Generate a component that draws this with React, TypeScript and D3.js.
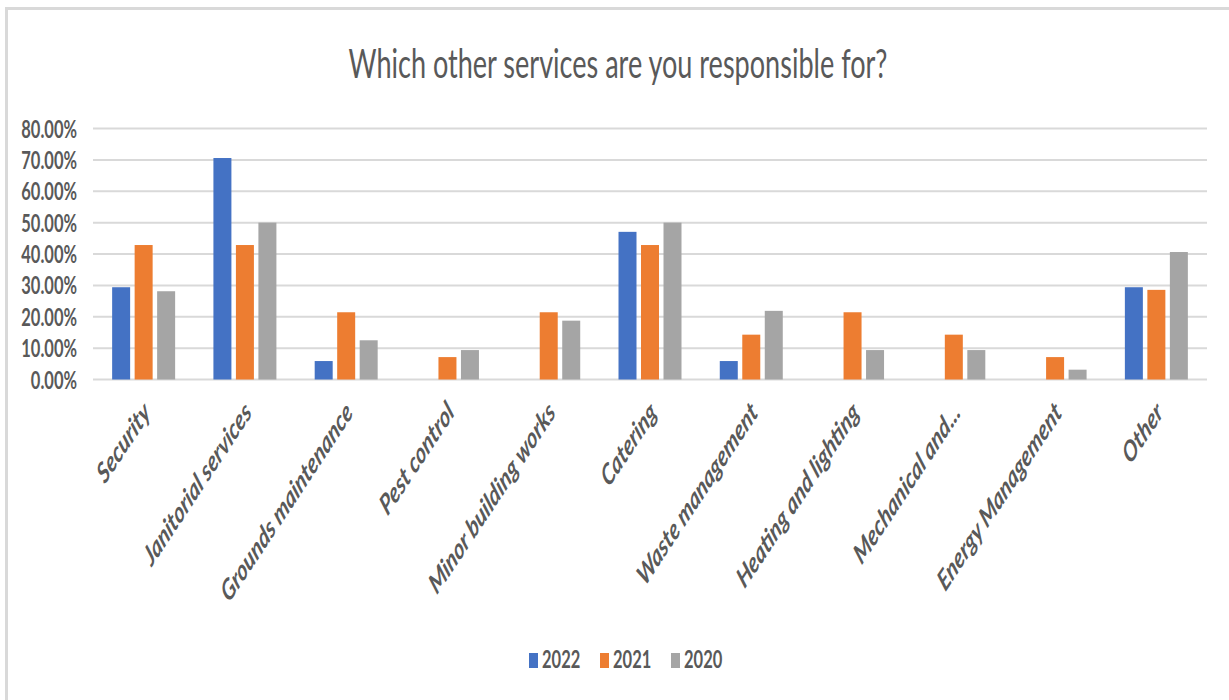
import React from "react";
import * as d3 from "d3";

const categories = [
  "Security",
  "Janitorial services",
  "Grounds maintenance",
  "Pest control",
  "Minor building works",
  "Catering",
  "Waste management",
  "Heating and lighting",
  "Mechanical and...",
  "Energy Management",
  "Other",
];
const seriesNames = ["2022", "2021", "2020"];
const values2022 = [0.2941, 0.7059, 0.0588, 0, 0, 0.4706, 0.0588, 0, 0, 0, 0.2941];
const values2021 = [0.4286, 0.4286, 0.2143, 0.0714, 0.2143, 0.4286, 0.1429, 0.2143, 0.1429, 0.0714, 0.2857];
const values2020 = [0.2813, 0.5, 0.125, 0.0938, 0.1875, 0.5, 0.2188, 0.0938, 0.0938, 0.0313, 0.4063];
const yTicks = [0, 0.1, 0.2, 0.3, 0.4, 0.5, 0.6, 0.7, 0.8];
const colors = ["#4472C4", "#ED7D31", "#A5A5A5"];

const W = 1229;
const H = 700;
const SX = 0.66; // horizontal squeeze of the reference picture
const textColor = "#595959";

export default function App() {
  const series = [values2022, values2021, values2020];
  const x0 = d3.scaleBand<string>().domain(categories).range([93, 1207]).paddingInner(0.378).paddingOuter(0.189);
  const x1 = d3.scaleBand<string>().domain(seriesNames).range([0, x0.bandwidth()]).paddingInner(0.2);
  const y = d3.scaleLinear().domain([0, 0.8]).range([379.5, 128.5]);
  const fmt = d3.format(".2%");

  return (
    <svg width={W} height={H} style={{ position: "absolute", left: 0, top: 0, background: "#fff" }}>
      <rect x={6.5} y={8.5} width={W + 20} height={H + 20} fill="#fff" stroke="#D9D9D9" strokeWidth={3} />
      <text
        transform={`translate(618,78) scale(${SX},1)`}
        textAnchor="middle"
        fontFamily="Lato"
        fontWeight={400}
        fontSize={41}
        fill={textColor}
      >
        Which other services are you responsible for?
      </text>
      {yTicks.map((t) => (
        <g key={t}>
          <line x1={93} x2={1207} y1={y(t)} y2={y(t)} stroke="#D9D9D9" strokeWidth={2} />
          <text
            transform={`translate(77,${y(t)}) scale(${SX},1)`}
            dy="0.36em"
            textAnchor="end"
            fontFamily="Lato"
            fontWeight={700}
            fontSize={25}
            fill={textColor}
          >
            {fmt(t)}
          </text>
        </g>
      ))}
      {categories.map((c, i) => (
        <g key={c} transform={`translate(${x0(c)},0)`}>
          {seriesNames.map((s, j) =>
            series[j][i] > 0 ? (
              <rect
                key={s}
                x={x1(s)}
                y={y(series[j][i])}
                width={x1.bandwidth()}
                height={y(0) - y(series[j][i])}
                fill={colors[j]}
              />
            ) : null
          )}
        </g>
      ))}
      {categories.map((c) => (
        <text
          key={c}
          transform={`translate(${(x0(c) as number) + x0.bandwidth() / 2 + 3},407) scale(${SX},1) rotate(-45)`}
          dy="0.35em"
          textAnchor="end"
          fontFamily="Lato"
          fontStyle="italic"
          fontWeight={700}
          fontSize={29}
          fill={textColor}
        >
          {c}
        </text>
      ))}
      {seriesNames.map((s, j) => {
        const lx = 529 + j * 71;
        return (
          <g key={s}>
            <rect x={lx} y={653} width={9} height={15} fill={colors[j]} />
            <text
              transform={`translate(${lx + 13},668) scale(${SX},1)`}
              fontFamily="Lato"
              fontWeight={700}
              fontSize={25}
              fill={textColor}
            >
              {s}
            </text>
          </g>
        );
      })}
    </svg>
  );
}
